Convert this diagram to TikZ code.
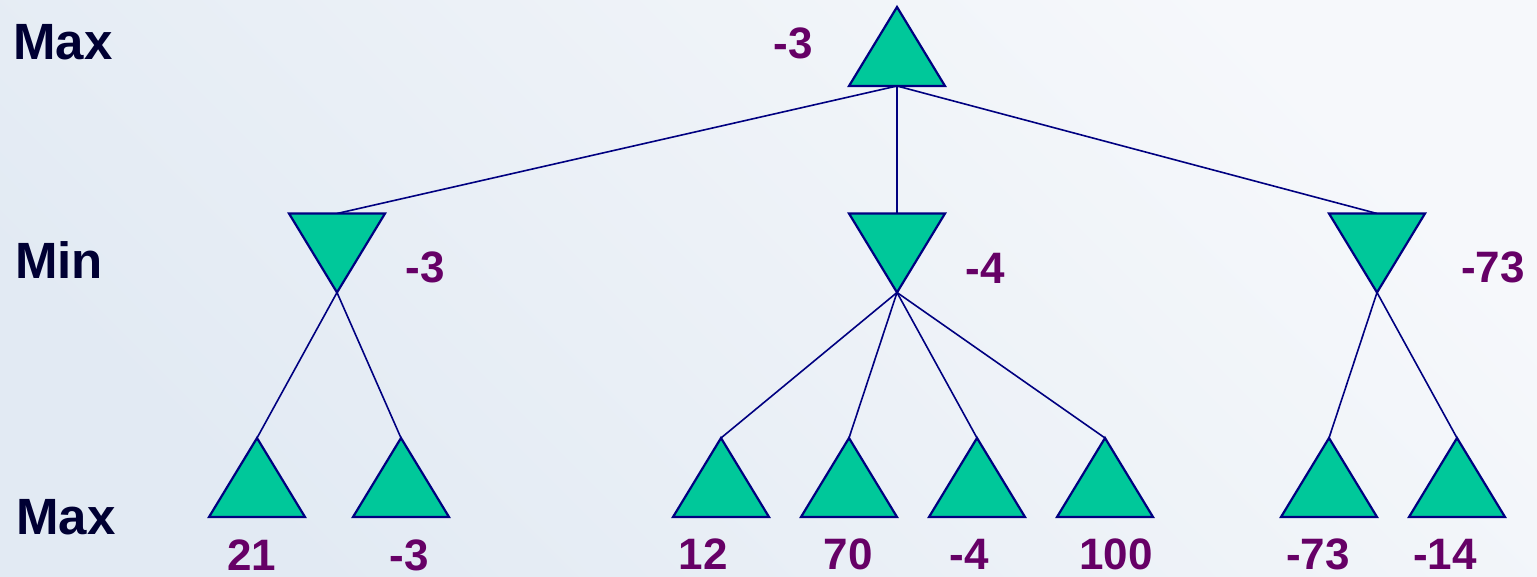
\documentclass[tikz,border=0pt]{standalone}
\usepackage{fontspec}
\setmainfont{Liberation Sans}
\definecolor{bgtop}{RGB}{226,234,243}
\definecolor{bgbot}{RGB}{246,248,251}
\definecolor{trifill}{RGB}{0,200,154}
\definecolor{navy}{RGB}{0,0,128}
\definecolor{valcol}{RGB}{102,0,102}
\definecolor{levcol}{RGB}{0,0,51}
\tikzset{
  tri/.style={rectangle, minimum width=96pt, minimum height=79pt, inner sep=0pt, outer sep=0pt},
  val/.style={text=valcol, font=\fontsize{44}{44}\selectfont\bfseries, inner sep=0pt},
  lev/.style={text=levcol, font=\fontsize{51}{51}\selectfont\bfseries, inner sep=0pt},
}
\begin{document}
\begin{tikzpicture}[x=1pt, y=-1pt]
\shade[left color=bgtop, right color=bgbot, shading angle=135] (0,0) rectangle (1537,577);
\useasboundingbox (0,0) rectangle (1537,577);
% level names
\node[lev] (lmax1) at (63,42) {Max};
\node[lev] (lmin) at (59,260) {Min};
\node[lev] (lmax2) at (66,517) {Max};
% tree nodes
\node[tri] (root) at (897,46.5) {};
\node[tri] (mA) at (337,253) {};
\node[tri] (mB) at (897,253) {};
\node[tri] (mC) at (1377,253) {};
\node[tri] (a1) at (257,477.5) {};
\node[tri] (a2) at (401,477.5) {};
\node[tri] (b1) at (721,477.5) {};
\node[tri] (b2) at (849,477.5) {};
\node[tri] (b3) at (977,477.5) {};
\node[tri] (b4) at (1105,477.5) {};
\node[tri] (c1) at (1329,477.5) {};
\node[tri] (c2) at (1457,477.5) {};
% edges
\foreach \m in {mA,mB,mC}
  \draw[navy, line width=1.6pt] (root.south) -- (\m.north);
\foreach \m/\l in {mA/a1,mA/a2,mB/b1,mB/b2,mB/b3,mB/b4,mC/c1,mC/c2}
  \draw[navy, line width=1.6pt] (\m.south) -- (\l.north);
% triangles
\foreach \n in {root,a1,a2,b1,b2,b3,b4,c1,c2}
  \draw[navy, fill=trifill, line width=2.2pt, line join=miter] (\n.north) -- (\n.south east) -- (\n.south west) -- cycle;
\foreach \n in {mA,mB,mC}
  \draw[navy, fill=trifill, line width=2.2pt, line join=miter] (\n.south) -- (\n.north east) -- (\n.north west) -- cycle;
% values
\node[val] (vroot) at (793,43) {-3};
\node[val] (vmA) at (425,267) {-3};
\node[val] (vmB) at (985,268) {-4};
\node[val] (vmC) at (1493,267) {-73};
\node[val] (va1) at (252,555) {21};
\node[val] (va2) at (409,555) {-3};
\node[val] (vb1) at (703,554) {12};
\node[val] (vb2) at (848,554) {70};
\node[val] (vb3) at (969,554) {-4};
\node[val] (vb4) at (1116,554) {100};
\node[val] (vc1) at (1318,554) {-73};
\node[val] (vc2) at (1445,554) {-14};
\end{tikzpicture}
\end{document}
